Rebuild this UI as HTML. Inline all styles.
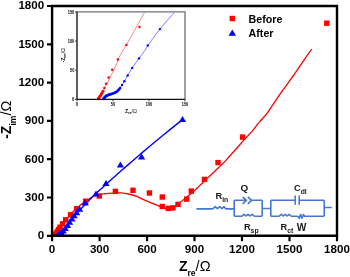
<!DOCTYPE html><html><head><meta charset="utf-8"><style>
html,body{margin:0;padding:0;background:#fff;width:350px;height:277px;overflow:hidden}
svg{display:block;will-change:transform}
text{font-family:"Liberation Sans",sans-serif}
</style></head><body>
<svg width="350" height="277" viewBox="0 0 350 277">
<rect width="350" height="277" fill="#fff"/>
<defs><clipPath id="pc"><rect x="52.1" y="6.0" width="284.9" height="229.8"/></clipPath></defs>
<g clip-path="url(#pc)">
<path d="M53.00 235.60C53.42 235.03 54.58 233.47 55.50 232.20C56.42 230.93 57.48 229.25 58.50 228.00C59.52 226.75 60.63 225.78 61.60 224.70C62.57 223.62 63.22 222.77 64.30 221.50C65.38 220.23 66.83 218.55 68.10 217.10C69.37 215.65 70.53 214.15 71.90 212.80C73.27 211.45 74.67 210.45 76.30 209.00C77.93 207.55 79.65 205.73 81.70 204.10C83.75 202.47 86.55 200.55 88.60 199.20C90.65 197.85 92.10 196.82 94.00 196.00C95.90 195.18 97.57 194.75 100.00 194.30C102.43 193.85 106.10 193.52 108.60 193.30C111.10 193.08 112.87 193.07 115.00 193.00C117.13 192.93 119.13 192.73 121.40 192.90C123.67 193.07 125.98 193.42 128.60 194.00C131.22 194.58 134.72 195.52 137.10 196.40C139.48 197.28 140.75 198.32 142.90 199.30C145.05 200.28 147.87 201.42 150.00 202.30C152.13 203.18 153.80 203.78 155.70 204.60C157.60 205.42 159.87 206.57 161.40 207.20C162.93 207.83 163.37 208.20 164.90 208.40C166.43 208.60 168.70 208.87 170.60 208.40C172.50 207.93 174.22 207.02 176.30 205.60C178.38 204.18 181.65 201.07 183.10 199.90C184.55 198.73 183.48 199.82 185.00 198.60C186.52 197.38 189.80 194.72 192.20 192.60C194.60 190.48 196.98 188.18 199.40 185.90C201.82 183.62 204.13 181.35 206.70 178.90C209.27 176.45 212.22 173.67 214.80 171.20C217.38 168.73 220.23 166.03 222.20 164.10C224.17 162.17 224.25 162.15 226.60 159.60C228.95 157.05 233.23 152.25 236.30 148.80C239.37 145.35 242.30 141.90 245.00 138.90C247.70 135.90 250.33 133.33 252.50 130.80C254.67 128.27 256.58 125.45 258.00 123.70C259.42 121.95 259.40 122.15 261.00 120.30C262.60 118.45 265.53 115.33 267.60 112.60C269.67 109.87 270.98 107.47 273.40 103.90C275.82 100.33 280.17 93.97 282.10 91.20C284.03 88.43 283.05 90.00 285.00 87.30C286.95 84.60 292.00 77.52 293.80 75.00C295.60 72.48 292.82 76.53 295.80 72.20C298.78 67.87 309.05 52.87 311.70 49.00" fill="none" stroke="#ff0000" stroke-width="1.3" stroke-linejoin="round"/>
<path d="M57.00 235.30C57.50 234.75 58.67 233.38 60.00 232.00C61.33 230.62 63.00 229.17 65.00 227.00C67.00 224.83 69.50 221.85 72.00 219.00C74.50 216.15 77.00 213.17 80.00 209.90C83.00 206.63 86.67 202.75 90.00 199.40C93.33 196.05 96.67 192.92 100.00 189.80C103.33 186.68 106.67 183.70 110.00 180.70C113.33 177.70 116.67 174.73 120.00 171.80C123.33 168.87 126.67 165.98 130.00 163.10C133.33 160.22 136.67 157.35 140.00 154.50C143.33 151.65 146.67 148.80 150.00 146.00C153.33 143.20 156.67 140.43 160.00 137.70C163.33 134.97 166.25 132.62 170.00 129.60C173.75 126.58 180.42 121.27 182.50 119.60" fill="none" stroke="#0000ff" stroke-width="1.4" stroke-linejoin="round"/>
<rect x="324.1" y="20.5" width="5.4" height="5.4" fill="#ff0000"/>
<rect x="239.9" y="134.4" width="5.4" height="5.4" fill="#ff0000"/>
<rect x="215.3" y="159.9" width="5.4" height="5.4" fill="#ff0000"/>
<rect x="201.8" y="176.7" width="5.4" height="5.4" fill="#ff0000"/>
<rect x="188.6" y="188.4" width="5.4" height="5.4" fill="#ff0000"/>
<rect x="184.0" y="196.4" width="5.4" height="5.4" fill="#ff0000"/>
<rect x="175.3" y="201.7" width="5.4" height="5.4" fill="#ff0000"/>
<rect x="170.2" y="205.2" width="5.4" height="5.4" fill="#ff0000"/>
<rect x="165.6" y="205.7" width="5.4" height="5.4" fill="#ff0000"/>
<rect x="159.6" y="203.8" width="5.4" height="5.4" fill="#ff0000"/>
<rect x="159.6" y="194.3" width="5.4" height="5.4" fill="#ff0000"/>
<rect x="146.7" y="190.3" width="5.4" height="5.4" fill="#ff0000"/>
<rect x="130.3" y="187.6" width="5.4" height="5.4" fill="#ff0000"/>
<rect x="112.7" y="188.7" width="5.4" height="5.4" fill="#ff0000"/>
<rect x="96.6" y="193.3" width="5.4" height="5.4" fill="#ff0000"/>
<rect x="82.9" y="198.5" width="5.4" height="5.4" fill="#ff0000"/>
<rect x="73.9" y="206.1" width="5.4" height="5.4" fill="#ff0000"/>
<rect x="67.8" y="212.1" width="5.4" height="5.4" fill="#ff0000"/>
<rect x="63.0" y="217.1" width="5.4" height="5.4" fill="#ff0000"/>
<rect x="59.9" y="221.1" width="5.4" height="5.4" fill="#ff0000"/>
<rect x="57.3" y="224.5" width="5.4" height="5.4" fill="#ff0000"/>
<rect x="55.7" y="226.9" width="5.4" height="5.4" fill="#ff0000"/>
<rect x="54.5" y="229.1" width="5.4" height="5.4" fill="#ff0000"/>
<rect x="53.7" y="230.7" width="5.4" height="5.4" fill="#ff0000"/>
<rect x="53.2" y="231.9" width="5.4" height="5.4" fill="#ff0000"/>
<path d="M182.5 116.1L186.1 122.1L178.9 122.1Z" fill="#0000ff"/>
<path d="M141.6 153.4L145.2 159.4L138.0 159.4Z" fill="#0000ff"/>
<path d="M120.4 161.4L124.0 167.4L116.8 167.4Z" fill="#0000ff"/>
<path d="M106.0 179.9L109.6 185.9L102.4 185.9Z" fill="#0000ff"/>
<path d="M96.0 190.4L99.6 196.4L92.4 196.4Z" fill="#0000ff"/>
<path d="M85.2 199.5L88.8 205.5L81.6 205.5Z" fill="#0000ff"/>
<path d="M79.6 205.7L83.2 211.7L76.0 211.7Z" fill="#0000ff"/>
<path d="M76.6 209.2L80.2 215.2L73.0 215.2Z" fill="#0000ff"/>
<path d="M74.1 212.3L77.7 218.3L70.5 218.3Z" fill="#0000ff"/>
<path d="M72.0 215.5L75.6 221.5L68.4 221.5Z" fill="#0000ff"/>
<path d="M69.6 218.8L73.2 224.8L66.0 224.8Z" fill="#0000ff"/>
<path d="M67.6 222.0L71.2 228.0L64.0 228.0Z" fill="#0000ff"/>
<path d="M65.3 225.0L68.9 231.0L61.7 231.0Z" fill="#0000ff"/>
<path d="M63.2 227.6L66.8 233.6L59.6 233.6Z" fill="#0000ff"/>
<path d="M61.2 229.4L64.8 235.4L57.6 235.4Z" fill="#0000ff"/>
<path d="M59.3 230.6L62.9 236.6L55.7 236.6Z" fill="#0000ff"/>
<path d="M57.6 231.4L61.2 237.4L54.0 237.4Z" fill="#0000ff"/>
<path d="M62.2 231.0L65.8 237.0L58.6 237.0Z" fill="#0000ff"/>
<path d="M60.2 231.6L63.8 237.6L56.6 237.6Z" fill="#0000ff"/>
<path d="M58.8 232.0L62.4 238.0L55.2 238.0Z" fill="#0000ff"/>
</g>
<path d="M52.1 6.0H337.0V235.8H52.1Z" fill="none" stroke="#000" stroke-width="2.4" stroke-linejoin="miter"/>
<path d="M47 235.8H52.1M52.1 235.8V241.2M47 197.5H52.1M99.6 235.8V241.2M47 159.2H52.1M147.1 235.8V241.2M47 120.9H52.1M194.5 235.8V241.2M47 82.6H52.1M242.0 235.8V241.2M47 44.3H52.1M289.5 235.8V241.2M47 6.0H52.1M337.0 235.8V241.2" stroke="#000" stroke-width="2.2" fill="none"/>
<text x="44.2" y="239.1" font-size="11.6" font-weight="bold" text-anchor="end">0</text>
<text x="52.1" y="252.5" font-size="11.6" font-weight="bold" text-anchor="middle">0</text>
<text x="44.2" y="200.8" font-size="11.6" font-weight="bold" text-anchor="end">300</text>
<text x="99.6" y="252.5" font-size="11.6" font-weight="bold" text-anchor="middle">300</text>
<text x="44.2" y="162.5" font-size="11.6" font-weight="bold" text-anchor="end">600</text>
<text x="147.1" y="252.5" font-size="11.6" font-weight="bold" text-anchor="middle">600</text>
<text x="44.2" y="124.2" font-size="11.6" font-weight="bold" text-anchor="end">900</text>
<text x="194.5" y="252.5" font-size="11.6" font-weight="bold" text-anchor="middle">900</text>
<text x="44.2" y="85.9" font-size="11.6" font-weight="bold" text-anchor="end">1200</text>
<text x="242.0" y="252.5" font-size="11.6" font-weight="bold" text-anchor="middle">1200</text>
<text x="44.2" y="47.6" font-size="11.6" font-weight="bold" text-anchor="end">1500</text>
<text x="289.5" y="252.5" font-size="11.6" font-weight="bold" text-anchor="middle">1500</text>
<text x="44.2" y="9.3" font-size="11.6" font-weight="bold" text-anchor="end">1800</text>
<text x="337.0" y="252.5" font-size="11.6" font-weight="bold" text-anchor="middle">1800</text>
<text x="178.9" y="270.8" font-size="14" font-weight="bold">Z<tspan font-size="8.6" dy="5.4">re</tspan><tspan dy="-5.4" font-weight="normal" font-size="14.6">/Ω</tspan></text>
<text transform="translate(10.8,138.8) rotate(-90)" font-size="14" font-weight="bold">-Z<tspan font-size="8.6" dy="5.6">im</tspan><tspan dy="-5.6" font-weight="normal" font-size="14.6">/Ω</tspan></text>
<rect x="229.6" y="15.8" width="5.4" height="5.4" fill="#ff0000"/>
<path d="M232.3 29.6L236.1 35.8L228.5 35.8Z" fill="#0000ff"/>
<text x="248.6" y="22.8" font-size="10.7" font-weight="bold">Before</text>
<text x="248.6" y="37.2" font-size="10.7" font-weight="bold">After</text>
<rect x="77.0" y="11.9" width="108.0" height="87.5" fill="#fff"/>
<path d="M98.60 98.80C98.77 98.60 99.17 98.20 99.60 97.60C100.03 97.00 100.50 96.47 101.20 95.20C101.90 93.93 102.83 91.95 103.80 90.00C104.77 88.05 105.70 86.10 107.00 83.50C108.30 80.90 110.38 76.85 111.60 74.40C112.82 71.95 113.43 70.60 114.30 68.80C115.17 67.00 116.08 65.32 116.80 63.60C117.52 61.88 117.78 60.33 118.60 58.50C119.42 56.67 120.40 54.85 121.70 52.60C123.00 50.35 125.18 47.07 126.40 45.00C127.62 42.93 127.28 43.30 129.00 40.20C130.72 37.10 134.13 31.00 136.70 26.40C139.27 21.80 143.12 14.90 144.40 12.60" fill="none" stroke="#ff4040" stroke-width="0.65"/>
<path d="M102.80 99.30C103.00 99.02 103.40 98.18 104.00 97.60C104.60 97.02 105.68 96.23 106.40 95.80C107.12 95.37 107.65 95.22 108.30 95.00C108.95 94.78 109.32 94.80 110.30 94.50C111.28 94.20 113.25 93.62 114.20 93.20C115.15 92.78 115.43 92.45 116.00 92.00C116.57 91.55 116.93 91.20 117.60 90.50C118.27 89.80 119.27 88.73 120.00 87.80C120.73 86.87 121.27 86.00 122.00 84.90C122.73 83.80 123.45 82.77 124.40 81.20C125.35 79.63 126.40 77.72 127.70 75.50C129.00 73.28 130.32 70.75 132.20 67.90C134.08 65.05 137.70 60.22 139.00 58.40C140.30 56.58 138.97 58.40 140.00 57.00C141.03 55.60 143.90 51.90 145.20 50.00C146.50 48.10 145.35 49.08 147.80 45.60C150.25 42.12 155.48 34.60 159.90 29.10C164.32 23.60 171.90 15.35 174.30 12.60" fill="none" stroke="#4040ff" stroke-width="0.7"/>
<circle cx="139.5" cy="27.0" r="1.25" fill="#ff0000"/>
<circle cx="126.4" cy="45.0" r="1.25" fill="#ff0000"/>
<circle cx="117.9" cy="59.4" r="1.25" fill="#ff0000"/>
<circle cx="112.2" cy="69.8" r="1.25" fill="#ff0000"/>
<circle cx="108.6" cy="77.6" r="1.25" fill="#ff0000"/>
<circle cx="106.1" cy="83.7" r="1.25" fill="#ff0000"/>
<circle cx="104.4" cy="88.0" r="1.25" fill="#ff0000"/>
<circle cx="103.1" cy="91.2" r="1.40" fill="#ff0000"/>
<circle cx="102.3" cy="92.6" r="1.40" fill="#ff0000"/>
<circle cx="101.8" cy="93.5" r="1.40" fill="#ff0000"/>
<circle cx="101.2" cy="94.4" r="1.40" fill="#ff0000"/>
<circle cx="100.7" cy="95.3" r="1.40" fill="#ff0000"/>
<circle cx="100.1" cy="96.2" r="1.40" fill="#ff0000"/>
<circle cx="99.6" cy="96.9" r="1.40" fill="#ff0000"/>
<circle cx="99.1" cy="97.6" r="1.40" fill="#ff0000"/>
<circle cx="98.6" cy="98.3" r="1.40" fill="#ff0000"/>
<circle cx="98.2" cy="98.9" r="1.40" fill="#ff0000"/>
<circle cx="159.9" cy="29.1" r="1.20" fill="#0000ff"/>
<circle cx="147.8" cy="45.4" r="1.20" fill="#0000ff"/>
<circle cx="139.0" cy="58.4" r="1.20" fill="#0000ff"/>
<circle cx="132.2" cy="67.9" r="1.20" fill="#0000ff"/>
<circle cx="127.7" cy="75.5" r="1.20" fill="#0000ff"/>
<circle cx="124.4" cy="81.2" r="1.20" fill="#0000ff"/>
<circle cx="122.0" cy="84.9" r="1.20" fill="#0000ff"/>
<circle cx="120.1" cy="88.1" r="1.30" fill="#0000ff"/>
<circle cx="119.0" cy="89.4" r="1.30" fill="#0000ff"/>
<circle cx="118.0" cy="90.6" r="1.30" fill="#0000ff"/>
<circle cx="117.0" cy="91.4" r="1.30" fill="#0000ff"/>
<circle cx="116.0" cy="92.1" r="1.30" fill="#0000ff"/>
<circle cx="115.0" cy="92.6" r="1.30" fill="#0000ff"/>
<circle cx="114.0" cy="93.1" r="1.30" fill="#0000ff"/>
<circle cx="113.0" cy="93.5" r="1.30" fill="#0000ff"/>
<circle cx="112.0" cy="93.8" r="1.30" fill="#0000ff"/>
<circle cx="111.0" cy="94.1" r="1.30" fill="#0000ff"/>
<circle cx="110.2" cy="94.4" r="1.30" fill="#0000ff"/>
<circle cx="109.3" cy="94.6" r="1.30" fill="#0000ff"/>
<circle cx="108.5" cy="94.9" r="1.30" fill="#0000ff"/>
<circle cx="107.7" cy="95.2" r="1.30" fill="#0000ff"/>
<circle cx="107.0" cy="95.5" r="1.30" fill="#0000ff"/>
<circle cx="106.3" cy="95.9" r="1.30" fill="#0000ff"/>
<circle cx="105.7" cy="96.4" r="1.30" fill="#0000ff"/>
<circle cx="105.2" cy="96.9" r="1.30" fill="#0000ff"/>
<circle cx="104.7" cy="97.4" r="1.30" fill="#0000ff"/>
<circle cx="104.3" cy="97.9" r="1.30" fill="#0000ff"/>
<circle cx="103.9" cy="98.4" r="1.30" fill="#0000ff"/>
<circle cx="103.5" cy="98.9" r="1.30" fill="#0000ff"/>
<path d="M77.0 11.9H185.0V99.4" fill="none" stroke="#707070" stroke-width="1.3"/>
<path d="M77.0 11.9V99.4H185.0" fill="none" stroke="#111" stroke-width="1.35"/>
<path d="M75.2 99.4H77.0M77.0 99.4V101.2M75.2 70.2H77.0M113.0 99.4V101.2M75.2 41.1H77.0M149.0 99.4V101.2M75.2 11.9H77.0M185.0 99.4V101.2" stroke="#383838" stroke-width="1.1" fill="none"/>
<text x="72.0" y="101.1" font-size="4.9" fill="#000" font-weight="bold" textLength="2.3" lengthAdjust="spacingAndGlyphs">0</text>
<text x="75.8" y="105.9" font-size="4.9" fill="#000" font-weight="bold" textLength="2.3" lengthAdjust="spacingAndGlyphs">0</text>
<text x="70.0" y="71.9" font-size="4.9" fill="#000" font-weight="bold" textLength="4.3" lengthAdjust="spacingAndGlyphs">50</text>
<text x="110.8" y="105.9" font-size="4.9" fill="#000" font-weight="bold" textLength="4.3" lengthAdjust="spacingAndGlyphs">50</text>
<text x="67.8" y="42.8" font-size="4.9" fill="#000" font-weight="bold" textLength="6.5" lengthAdjust="spacingAndGlyphs">100</text>
<text x="145.8" y="105.9" font-size="4.9" fill="#000" font-weight="bold" textLength="6.5" lengthAdjust="spacingAndGlyphs">100</text>
<text x="67.8" y="13.6" font-size="4.9" fill="#000" font-weight="bold" textLength="6.5" lengthAdjust="spacingAndGlyphs">150</text>
<text x="181.8" y="105.9" font-size="4.9" fill="#000" font-weight="bold" textLength="6.5" lengthAdjust="spacingAndGlyphs">150</text>
<text x="125" y="113" font-size="5.2" fill="#111" font-weight="bold">Z<tspan font-size="3.6" dy="1.4">re</tspan><tspan dy="-1.4" font-weight="normal">/Ω</tspan></text>
<text transform="translate(65,62.6) rotate(-90)" font-size="5.2" fill="#111" font-weight="bold">-Z<tspan font-size="3.6" dy="1.4">im</tspan><tspan dy="-1.4" font-weight="normal">/Ω</tspan></text>
<path d="M196.4 208.9H212.8M212.8 208.9 L215.2 206.7 L217.4 208.6 L219.7 206.7 L221.9 208.6 L224.1 206.7 L225.8 208.9M225.8 208.9H234.2M234.2 200.3V216.3M262.2 200.3V216.3M234.2 200.3H246.5M242.6 196.9L246.5 200.3L242.6 203.9M247.8 196.9L251.6 200.3L247.8 203.9M251.4 200.3H262.2M234.2 216.3H241.8M241.8 216.3 L243.9 214.4 L245.9 216.0 L248.0 214.4 L250.1 216.0 L252.1 214.4 L254.7 216.3M254.7 216.3H262.2M262.2 208.5H270.8M270.8 200.3V216.3M324.2 200.3V216.3M270.8 200.3H295.2M299.2 200.3H324.2M270.8 216.3H278.9M278.9 216.3 L281.3 214.3 L283.2 216.0 L285.2 214.3 L287.1 216.0 L289.1 214.3 L291.0 216.3M291 216.3H297.8M297.8 216.3L299.2 218.3L300.6 214.4L302 218.3L303.4 214.4L304.6 216.3H324.2M324.2 207.5H331.8" stroke="#4677d2" stroke-width="1.6" fill="none" stroke-linejoin="round" stroke-linecap="butt"/>
<path d="M295.2 195.5V204.7M299.2 195.5V204.7" stroke="#4677d2" stroke-width="1.6"/>
<text x="215.5" y="199.2" font-size="9.3" font-weight="bold" fill="#1a1a1a">R<tspan font-size="6.8" dy="2.8">in</tspan></text>
<text x="240.4" y="191.0" font-size="9.9" font-weight="bold" fill="#1a1a1a">Q</text>
<text x="243.9" y="229.7" font-size="9.3" font-weight="bold" fill="#1a1a1a">R<tspan font-size="6.8" dy="2.8">sp</tspan></text>
<text x="294.0" y="191.0" font-size="9.3" font-weight="bold" fill="#1a1a1a">C<tspan font-size="6.8" dy="2.6">dl</tspan></text>
<text x="280.6" y="230.0" font-size="9.3" font-weight="bold" fill="#1a1a1a">R<tspan font-size="6.8" dy="2.9">ct</tspan></text>
<text x="296.8" y="230.5" font-size="10.2" font-weight="bold" fill="#1a1a1a">W</text>
</svg></body></html>
